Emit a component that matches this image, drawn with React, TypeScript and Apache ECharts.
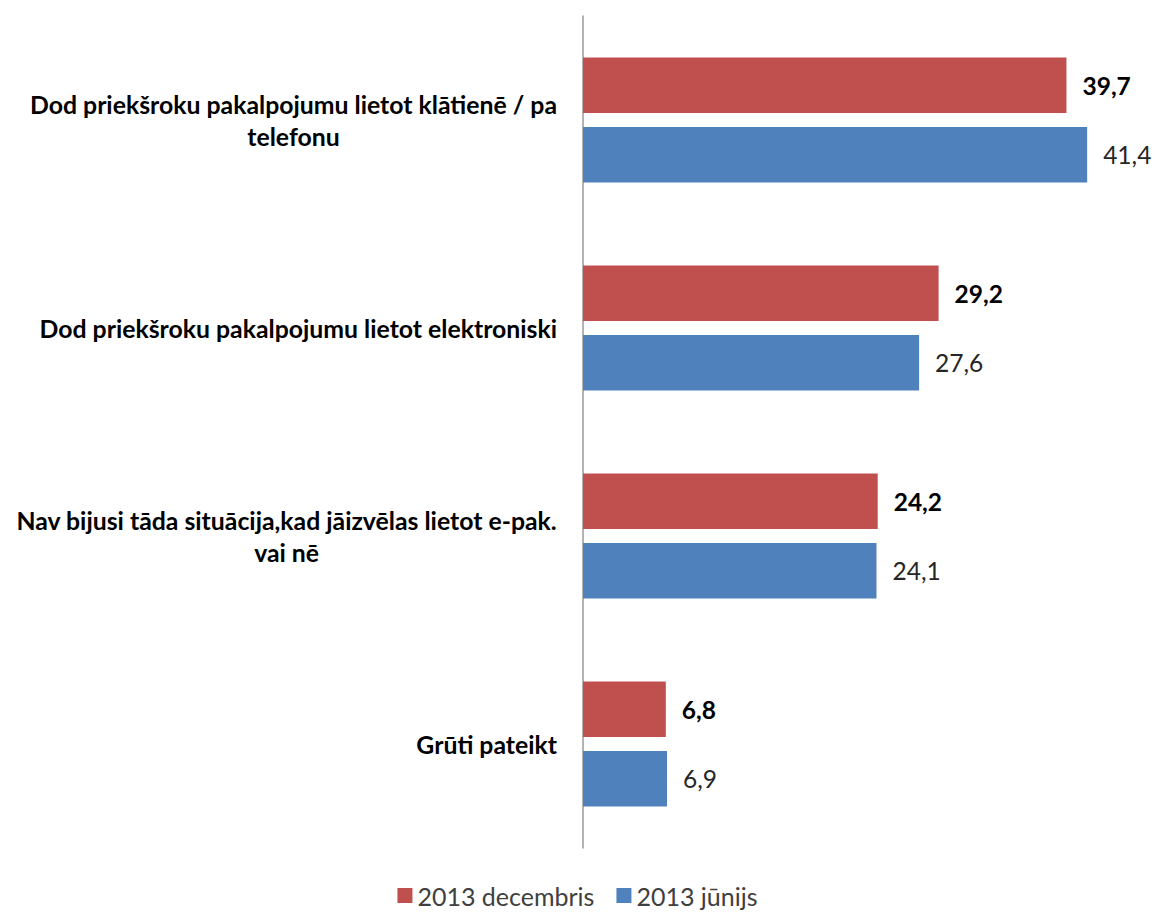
import React, { useEffect, useRef } from "react";
import * as echarts from "echarts";

const categories = [
  "Dod priekšroku pakalpojumu lietot klātienē / pa\ntelefonu",
  "Dod priekšroku pakalpojumu lietot elektroniski",
  "Nav bijusi tāda situācija,kad jāizvēlas lietot e-pak.\nvai nē",
  "Grūti pateikt",
];
const seriesNames = ["2013 decembris", "2013 jūnijs"];
const decembris = [39.7, 29.2, 24.2, 6.8];
const junijs = [41.4, 27.6, 24.1, 6.9];

const FONT = "Lato";
const fmt = (v: number) => v.toFixed(1).replace(".", ",");

export default function App() {
  const ref = useRef<HTMLDivElement>(null);
  useEffect(() => {
    if (!ref.current) return;
    const chart = echarts.init(ref.current, undefined, { renderer: "svg" });
    chart.setOption({
      animation: false,
      backgroundColor: "#ffffff",
      textStyle: { fontFamily: FONT },
      grid: { left: 583, right: 24, top: 16, bottom: 67, containLabel: false },
      legend: {
        bottom: 2,
        left: "center",
        icon: "rect",
        itemWidth: 15,
        itemHeight: 15,
        itemGap: 22,
        textStyle: { fontFamily: FONT, fontSize: 25, color: "#404040" },
        data: seriesNames,
      },
      xAxis: {
        type: "value",
        min: 0,
        max: 45,
        show: false,
      },
      yAxis: {
        type: "category",
        inverse: true,
        data: categories,
        axisLine: { show: true, lineStyle: { color: "#9a9a9a", width: 1.5 } },
        axisTick: { show: false },
        axisLabel: {
          margin: 26,
          align: "right",
          formatter: (v: string) =>
            v
              .split("\n")
              .map((l) => `{c|${l}}`)
              .join("\n"),
          rich: {
            c: {
              align: "center",
              fontFamily: FONT,
              fontWeight: "bold",
              fontSize: 24.8,
              lineHeight: 32,
              color: "#000000",
            },
          },
        },
      },
      series: [
        {
          name: seriesNames[0],
          type: "bar",
          data: decembris,
          barGap: "25%",
          barCategoryGap: "40%",
          itemStyle: { color: "#C0504D" },
          label: {
            show: true,
            position: "right",
            distance: 16,
            fontFamily: FONT,
            fontSize: 24.5,
            fontWeight: "bold",
            color: "#000000",
            formatter: (p: any) => fmt(p.value),
          },
        },
        {
          name: seriesNames[1],
          type: "bar",
          data: junijs,
          barGap: "25%",
          barCategoryGap: "40%",
          itemStyle: { color: "#4F81BD" },
          label: {
            show: true,
            position: "right",
            distance: 16,
            fontFamily: FONT,
            fontSize: 24.5,
            color: "#262626",
            formatter: (p: any) => fmt(p.value),
          },
        },
      ],
    });
    return () => chart.dispose();
  }, []);
  return (
    <div
      ref={ref}
      style={{ position: "fixed", left: 0, top: 0, width: 1155, height: 915 }}
    />
  );
}
